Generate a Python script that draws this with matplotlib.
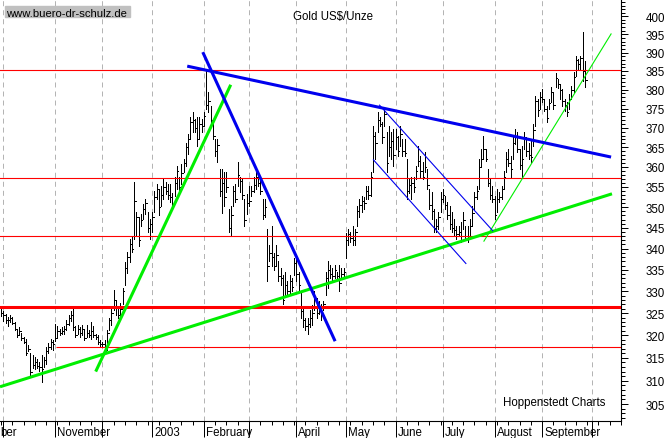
import numpy as np
import pandas as pd
import matplotlib
matplotlib.use("Agg")
import matplotlib.pyplot as plt
from matplotlib.ticker import FixedLocator, NullFormatter, FuncFormatter
from matplotlib.patches import Rectangle
import matplotlib.transforms as mtransforms

plt.rcParams["font.family"] = ["Liberation Sans", "DejaVu Sans"]
plt.rcParams["lines.scale_dashes"] = False

# daily bars, one per weekday, Sep 30 2002 .. Sep 26 2003 (US$ per ounce)
highs = [
    326.6, 325.5, 324.9, 324.2, 324.7, 324.2, 322.9, 321.5, 321.8, 320.5, 319.6, 319.2,
    317.8, 316.1, 315.6, 315.2, 314.8, 314.1, 315.6, 315.2, 317.4, 318.3, 319.2, 318.9,
    322.5, 322.2, 321.5, 321.8, 322.2, 323.5, 324.6, 325.5, 326.2, 322.2, 322.4, 321.8,
    322.4, 321.1, 322.4, 321.1, 322.9, 322.2, 320.3, 320.0, 318.9,
    318.5, 318.9, 321.1, 324.0, 326.2, 330.4, 328.0, 326.2, 327.4, 330.8, 336.9, 339.3,
    342.4, 343.1, 356.2, 348.9, 347.7, 348.4, 350.8, 352.0, 348.9, 347.2,
    348.9, 354.0, 355.7, 354.5, 355.2, 356.9, 356.2, 355.7, 355.7, 353.5, 357.4, 360.2,
    357.6, 360.7, 361.9, 366.2, 368.3, 372.9, 374.0, 372.2, 372.9, 372.9, 372.2,
    374.0, 385.5, 379.3, 375.6, 372.2, 367.0, 367.0, 359.4, 359.4, 358.7, 358.7, 349.6,
    350.3, 355.2, 355.7, 361.2, 357.6, 356.9, 352.0, 353.3,
    355.2, 355.2, 357.6, 358.7, 358.7, 356.9, 352.0, 352.0, 344.8, 340.8, 345.5, 338.9,
    340.8, 337.0, 335.4, 333.7, 334.6, 332.4, 333.7, 333.1, 337.7,
    337.7, 334.6, 330.1, 326.2, 324.0, 324.0, 325.8, 326.9, 330.1, 328.5, 327.8, 327.0,
    327.8, 334.6, 337.0, 336.1, 335.4, 336.1, 334.6, 336.1, 335.4, 335.4,
    343.8, 344.8, 344.1, 345.5, 344.8, 350.3, 352.0, 352.8, 352.5, 355.2, 355.2, 358.7,
    370.4, 368.8, 374.0, 372.9, 371.4, 374.8, 368.8, 370.4, 368.8, 369.6,
    369.6, 367.8, 370.4, 367.0, 367.0, 361.9, 356.9, 357.6, 357.6, 360.2, 365.2, 362.7,
    361.2, 363.7, 359.4, 354.5, 353.8, 349.6, 347.2, 348.9, 353.8,
    354.5, 352.8, 351.3, 350.3, 348.9, 347.2, 345.5, 345.5, 346.5, 348.9, 345.5, 345.5,
    347.2, 350.3, 353.8, 355.2, 361.9, 364.5, 367.8, 364.5, 359.4, 356.9, 355.2,
    352.8, 354.5, 353.8, 355.2, 358.9, 363.7, 364.5, 362.7, 367.8, 369.6, 368.8, 364.5,
    365.2, 368.8, 367.0, 366.2, 367.0, 370.9, 378.3, 377.4, 379.3,
    380.1, 377.4, 375.6, 377.4, 380.6, 379.3, 384.4, 382.8, 381.6, 380.1, 377.4, 376.6,
    378.8, 380.9, 384.7, 389.1, 388.2, 389.1, 395.6, 387.6,
]
lows = [
    324.4, 323.3, 322.7, 322.2, 323.0, 322.5, 321.1, 319.6, 320.0, 318.9, 318.2, 315.6,
    316.5, 310.9, 312.7, 312.5, 312.7, 312.2, 309.8, 313.0, 313.7, 316.1, 317.0, 316.8,
    318.8, 319.6, 320.0, 320.3, 320.3, 321.3, 322.4, 323.3, 321.1, 319.6, 320.3, 319.6,
    320.0, 318.9, 319.6, 319.6, 319.2, 319.6, 319.2, 318.1, 317.4,
    317.4, 315.9, 316.8, 321.1, 322.4, 325.7, 324.6, 324.0, 324.0, 327.0, 331.5, 334.2,
    336.9, 339.3, 342.4, 343.1, 340.7, 345.5, 347.2, 348.4, 344.1, 342.4,
    344.1, 348.9, 352.0, 348.0, 350.3, 352.0, 353.3, 352.0, 351.3, 349.6, 352.8, 354.5,
    353.8, 355.7, 358.7, 360.2, 363.2, 367.0, 368.8, 368.8, 365.2, 367.0, 368.8,
    370.4, 374.8, 374.0, 371.4, 367.0, 362.7, 361.2, 352.8, 348.6, 350.3, 353.8, 344.1,
    343.1, 350.3, 351.3, 355.2, 353.8, 352.0, 345.5, 348.4,
    350.3, 352.8, 353.8, 354.5, 355.2, 353.3, 347.2, 347.7, 332.4, 337.0, 336.0, 334.9,
    336.0, 332.4, 331.5, 327.0, 329.2, 329.2, 329.2, 330.1, 333.8,
    332.4, 330.1, 324.0, 321.8, 321.1, 320.3, 321.8, 322.4, 325.7, 324.0, 324.8, 323.5,
    325.7, 329.2, 330.8, 333.1, 332.4, 333.1, 333.1, 330.1, 333.1, 333.1,
    337.7, 340.8, 341.7, 340.8, 340.8, 345.5, 347.7, 348.9, 349.6, 352.0, 352.0, 352.8,
    358.7, 361.9, 368.8, 370.4, 366.2, 370.4, 358.7, 362.7, 361.9, 360.2,
    364.5, 362.7, 365.2, 362.7, 362.7, 352.0, 353.5, 352.0, 353.8, 356.9, 360.2, 357.6,
    356.9, 358.7, 354.5, 349.6, 347.2, 344.1, 344.1, 344.8, 348.9,
    351.3, 349.6, 347.2, 344.8, 344.1, 343.1, 342.4, 343.1, 341.7, 344.8, 342.4, 341.7,
    343.1, 345.5, 349.6, 352.0, 354.5, 360.2, 361.9, 361.4, 355.2, 352.0, 351.3,
    347.2, 348.9, 351.3, 352.0, 354.5, 358.7, 360.2, 357.6, 361.9, 365.7, 363.7, 359.4,
    357.6, 364.5, 362.7, 361.9, 361.2, 365.2, 370.4, 373.0, 374.8,
    376.6, 374.3, 371.4, 374.8, 376.6, 374.8, 380.6, 380.4, 377.4, 375.6, 374.3, 373.0,
    374.8, 377.4, 379.3, 383.6, 385.5, 385.5, 382.2, 380.6,
]
closes = [
    325.0, 324.5, 323.5, 323.5, 323.8, 322.8, 321.5, 320.0, 321.0, 319.5, 318.6, 316.0,
    317.0, 312.0, 313.5, 314.0, 313.2, 313.0, 312.5, 314.5, 316.5, 317.5, 318.5, 318.0,
    319.5, 321.0, 320.5, 321.0, 321.5, 322.5, 324.0, 324.5, 321.8, 320.0, 321.5, 320.5,
    321.5, 319.5, 320.5, 320.0, 321.0, 320.0, 319.6, 318.5, 318.0,
    318.0, 316.5, 320.5, 323.5, 325.0, 328.0, 326.5, 324.5, 326.0, 330.0, 335.5, 338.0,
    341.0, 340.0, 351.5, 347.5, 342.0, 347.0, 349.5, 351.0, 345.0, 346.0,
    347.5, 352.5, 354.5, 350.0, 353.0, 355.0, 354.0, 353.0, 352.5, 350.5, 356.0, 359.0,
    355.0, 358.5, 361.0, 365.0, 367.0, 371.5, 372.0, 370.0, 367.0, 371.0, 370.5,
    373.0, 376.0, 377.0, 372.0, 368.0, 364.0, 365.5, 354.0, 356.0, 352.5, 355.0, 345.0,
    348.0, 354.0, 352.0, 358.0, 356.5, 353.0, 347.0, 351.0,
    351.5, 354.0, 355.5, 357.5, 356.0, 354.0, 348.0, 350.0, 336.0, 339.0, 338.0, 336.0,
    338.5, 333.5, 333.0, 328.0, 331.5, 330.0, 332.5, 331.0, 336.5,
    334.0, 331.5, 325.5, 323.5, 322.0, 322.5, 324.0, 325.0, 328.5, 325.0, 326.5, 324.5,
    327.0, 333.0, 335.0, 334.0, 333.5, 335.0, 333.5, 332.0, 334.0, 334.5,
    342.0, 343.5, 342.5, 342.0, 344.0, 349.0, 350.5, 351.5, 351.0, 354.0, 353.0, 357.5,
    368.0, 366.0, 372.0, 371.0, 367.5, 373.5, 361.0, 365.0, 366.5, 363.0,
    367.5, 364.0, 368.5, 364.0, 363.5, 354.0, 355.5, 356.0, 355.0, 359.0, 361.5, 359.0,
    357.5, 360.0, 355.5, 350.5, 349.0, 345.0, 345.5, 347.5, 352.0,
    353.0, 350.5, 348.0, 346.0, 345.0, 344.5, 343.5, 344.0, 343.0, 347.0, 343.0, 342.5,
    345.5, 348.5, 352.5, 354.0, 360.0, 362.0, 364.5, 362.0, 356.0, 353.0, 352.0,
    348.0, 352.0, 352.5, 354.5, 357.5, 362.0, 361.0, 359.5, 366.0, 368.0, 364.5, 360.5,
    362.0, 367.5, 364.0, 363.0, 362.5, 369.5, 377.0, 374.5, 378.0,
    377.5, 375.0, 372.5, 376.5, 379.5, 376.0, 383.0, 381.5, 380.0, 377.0, 376.0, 374.0,
    377.5, 380.0, 383.5, 388.0, 387.0, 388.5, 385.0, 382.5,
]

dates = pd.bdate_range("2002-09-30", periods=len(highs))
axis_days = pd.bdate_range("2002-09-30", "2003-10-24")

# hand-drawn trend lines: (start bar, start price, end bar, end price)
green_thick = [(-0.44, 308.7, 271.0, 353.3), (42.0, 312.0, 101.9, 381.3)]
green_thin = [(214.2, 341.8, 270.6, 395.1)]
blue_thick = [(89.5, 390.1, 148.2, 318.7), (82.6, 386.3, 270.6, 362.5)]
blue_thin = [(167.9, 375.9, 218.1, 344.3), (165.2, 361.8, 206.2, 336.5)]

red_levels_thin = [385.2, 357.2, 343.0]
red_level_thick = 326.3
red_level_low = 317.4
red_level_low_start = 24.5

month_names = {
    "2002-11": "November", "2003-01": "2003", "2003-02": "February",
    "2003-04": "April", "2003-05": "May", "2003-06": "June",
    "2003-07": "July", "2003-08": "August", "2003-09": "September",
}

W, H = 669, 439
fig = plt.figure(figsize=(W / 100, H / 100), dpi=100)
ax = fig.add_axes([0, 17 / H, 621 / W, 422 / H])

x = np.arange(len(dates))
periods = axis_days.to_period("M")
month_pos = [i for i in range(len(axis_days)) if i == 0 or periods[i] != periods[i - 1]]
month_pos = month_pos[1:]  # first is the partial September
mondays = [i for i, d in enumerate(axis_days) if d.weekday() == 0]

# month grid
for m in month_pos:
    ax.axvline(m, color="#b4b4b4", lw=0.72, linestyle=(0, (3.6, 2.9)), zorder=1)

# price bars
ax.vlines(x, lows, highs, colors="black", linewidth=0.72, antialiased=False, zorder=3)
ax.hlines(closes, x, x + 0.7, colors="black", linewidth=0.72, antialiased=False, zorder=3)

# levels
for lv in red_levels_thin:
    ax.axhline(lv, color="#ff0000", lw=0.8, zorder=4)
ax.axhline(red_level_thick, color="#ff0000", lw=2.2, zorder=4)
ax.hlines(red_level_low, red_level_low_start, 280, color="#ff0000", lw=0.8, zorder=4)

# trend lines
for x0, y0, x1, y1 in green_thick:
    ax.plot([x0, x1], [y0, y1], color="#00ee00", lw=2.2, solid_capstyle="butt", zorder=5)
for x0, y0, x1, y1 in green_thin:
    ax.plot([x0, x1], [y0, y1], color="#00ee00", lw=0.8, zorder=5)
for x0, y0, x1, y1 in blue_thick:
    ax.plot([x0, x1], [y0, y1], color="#0000ee", lw=2.2, solid_capstyle="butt", zorder=5)
for x0, y0, x1, y1 in blue_thin:
    ax.plot([x0, x1], [y0, y1], color="#0000ee", lw=0.8, zorder=5)

# y axis (log) on the right
ax.set_yscale("log")
ax.set_ylim(301.4, 404.87)
ax.set_xlim(-0.44, 271.04)
ax.yaxis.tick_right()
ax.yaxis.set_major_locator(FixedLocator(list(range(305, 401, 5))))
ax.yaxis.set_major_formatter(FuncFormatter(lambda v, p: f"{v:.0f}"))
ax.yaxis.set_minor_locator(FixedLocator([v for v in range(302, 405) if v % 5]))
ax.yaxis.set_minor_formatter(NullFormatter())
ax.tick_params(axis="y", which="major", direction="out", length=5, width=0.72,
               pad=13, labelsize=8.3, colors="black")
ax.tick_params(axis="y", which="minor", direction="out", length=2.9, width=0.72)

# x axis: month separators and weekly ticks
ax.set_xticks(month_pos)
ax.set_xticks(mondays, minor=True)
ax.tick_params(axis="x", which="major", direction="out", length=11.5, width=0.72,
               labelbottom=False)
ax.tick_params(axis="x", which="minor", direction="out", length=2.9, width=0.72)

trans = mtransforms.blended_transform_factory(ax.transData, ax.transAxes)
for m in month_pos:
    key = axis_days[m].strftime("%Y-%m")
    if key in month_names:
        ax.text(m + 0.9, -14.5 / 422, month_names[key], transform=trans,
                fontsize=8.3, ha="left", va="baseline", clip_on=False)
ax.text(-0.3, -14.5 / 422, "ber", transform=trans, fontsize=8.3,
        ha="left", va="baseline", clip_on=False)

for side in ["left", "top"]:
    ax.spines[side].set_visible(False)
for side in ["right", "bottom"]:
    ax.spines[side].set_linewidth(0.8)

# captions
fig.patches.append(Rectangle((5 / W, 1 - 18.3 / H), 125 / W, 11 / H,
                             transform=fig.transFigure, color="#c0c0c0", zorder=0))
fig.text(6.5 / W, 1 - 17 / H, "www.buero-dr-schulz.de", fontsize=8.1, va="baseline")
fig.text(293 / W, 1 - 20 / H, "Gold US$/Unze", fontsize=8.3, va="baseline")
fig.text(502.7 / W, 1 - 406.5 / H, "Hoppenstedt Charts", fontsize=8.3, va="baseline")

fig.savefig("out.png", dpi=100)
